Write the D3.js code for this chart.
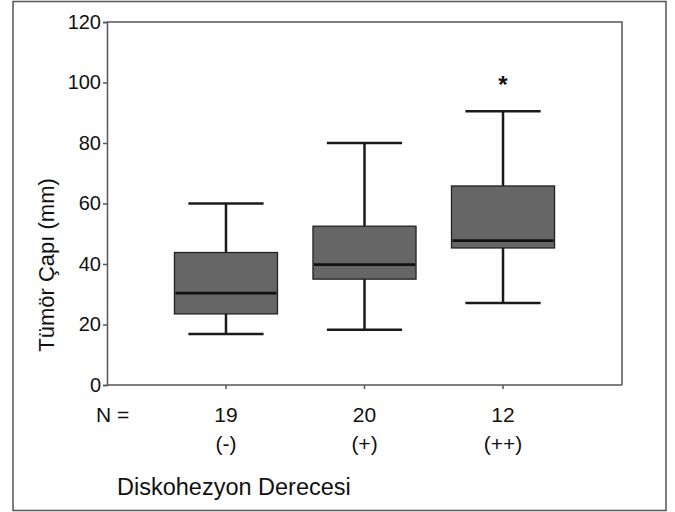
<!DOCTYPE html>
<meta charset="utf-8">
<style>
body { margin: 0; background: #fff; }
text { font-family: "Liberation Sans", Arial, Helvetica, sans-serif; fill: #111; }
.box { fill: #666666; stroke: #222; stroke-width: 1.3px; }
.whisker, .cap { stroke: #1a1a1a; stroke-width: 2.5px; }
.median { stroke: #111; stroke-width: 2.8px; }
.axis path, .axis line { stroke: #555; stroke-width: 1.5px; }
</style>
<body>

<script src="https://d3js.org/d3.v7.min.js"></script>

<script>

// Data
var categories = ["(-)", "(+)", "(++)"];
var counts = [19, 20, 12];
var lowWhisker = [16.9, 18.3, 27.1];
var q1 = [23.5, 35, 45.3];
var medians = [30.4, 39.8, 47.7];
var q3 = [43.8, 52.5, 65.8];
var highWhisker = [60, 80, 90.5];
var extremes = [{cat: "(++)", value: 101.3}];
var yTicks = [0, 20, 40, 60, 80, 100, 120];

var W = 675, H = 512;
var margin = {top: 22, right: 53, bottom: 127, left: 107},
    width = W - margin.left - margin.right,
    height = H - margin.top - margin.bottom;

var svg = d3.select("body").append("svg")
    .attr("width", W)
    .attr("height", H);

// outer frame
svg.append("rect")
    .attr("x", 13).attr("y", 1.5)
    .attr("width", 653).attr("height", 509)
    .attr("fill", "none")
    .attr("stroke", "#555")
    .attr("stroke-width", 1.5);

var g = svg.append("g")
    .attr("transform", "translate(" + margin.left + "," + margin.top + ")");

var x = d3.scaleBand()
    .domain(categories)
    .range([0, width])
    .paddingInner(0.256)
    .paddingOuter(0.487);

var y = d3.scaleLinear()
    .domain([0, 120])
    .range([height, 0]);

var rows = categories.map(function(c, i) {
  return {cat: c, n: counts[i], lo: lowWhisker[i], q1: q1[i], med: medians[i], q3: q3[i], hi: highWhisker[i]};
});

var bw = x.bandwidth();
var capW = bw * 0.73;

// plot frame (top and right)
g.append("path")
    .attr("d", "M0,0H" + width + "V" + height)
    .attr("fill", "none")
    .attr("stroke", "#555")
    .attr("stroke-width", 1.5);

// y axis
var yAxis = g.append("g")
    .attr("class", "axis")
    .call(d3.axisLeft(y).tickValues(yTicks).tickSize(4).tickPadding(2));
yAxis.selectAll("text")
    .style("font-size", "20px")
    .attr("fill", "#111");

// x axis (ticks only, labels drawn below)
var xAxis = g.append("g")
    .attr("class", "axis")
    .attr("transform", "translate(0," + height + ")")
    .call(d3.axisBottom(x).tickSize(4).tickFormat(""));
xAxis.select(".domain").attr("d", "M0,0H" + width);

var box = g.selectAll(".boxg")
    .data(rows)
  .enter().append("g")
    .attr("class", "boxg")
    .attr("transform", function(d) { return "translate(" + (x(d.cat) + bw / 2) + ",0)"; });

box.append("line").attr("class", "whisker")
    .attr("x1", 0).attr("x2", 0)
    .attr("y1", function(d) { return y(d.hi); })
    .attr("y2", function(d) { return y(d.q3); });
box.append("line").attr("class", "whisker")
    .attr("x1", 0).attr("x2", 0)
    .attr("y1", function(d) { return y(d.q1); })
    .attr("y2", function(d) { return y(d.lo); });
box.append("line").attr("class", "cap")
    .attr("x1", -capW / 2).attr("x2", capW / 2)
    .attr("y1", function(d) { return y(d.hi); })
    .attr("y2", function(d) { return y(d.hi); });
box.append("line").attr("class", "cap")
    .attr("x1", -capW / 2).attr("x2", capW / 2)
    .attr("y1", function(d) { return y(d.lo); })
    .attr("y2", function(d) { return y(d.lo); });

box.append("rect").attr("class", "box")
    .attr("x", -bw / 2)
    .attr("width", bw)
    .attr("y", function(d) { return y(d.q3); })
    .attr("height", function(d) { return y(d.q1) - y(d.q3); });

box.append("line").attr("class", "median")
    .attr("x1", -bw / 2 + 1).attr("x2", bw / 2 - 1)
    .attr("y1", function(d) { return y(d.med); })
    .attr("y2", function(d) { return y(d.med); });

// extreme values
g.selectAll(".extreme")
    .data(extremes)
  .enter().append("text")
    .attr("class", "extreme")
    .attr("x", function(d) { return x(d.cat) + bw / 2; })
    .attr("y", function(d) { return y(d.value) + 14; })
    .attr("text-anchor", "middle")
    .style("font-size", "24px")
    .style("font-weight", "bold")
    .text("*");

// N = row and category labels
svg.append("text")
    .attr("x", 96).attr("y", 422)
    .style("font-size", "21px")
    .text("N =");

g.selectAll(".count")
    .data(rows)
  .enter().append("text")
    .attr("class", "count")
    .attr("x", function(d) { return x(d.cat) + bw / 2; })
    .attr("y", 422 - margin.top)
    .attr("text-anchor", "middle")
    .style("font-size", "21px")
    .text(function(d) { return d.n; });

g.selectAll(".cat")
    .data(rows)
  .enter().append("text")
    .attr("class", "cat")
    .attr("x", function(d) { return x(d.cat) + bw / 2; })
    .attr("y", 451 - margin.top)
    .attr("text-anchor", "middle")
    .style("font-size", "21px")
    .text(function(d) { return d.cat; });

// axis titles
svg.append("text")
    .attr("x", 117).attr("y", 495)
    .style("font-size", "23.5px")
    .text("Diskohezyon Derecesi");

svg.append("text")
    .attr("transform", "translate(54,265) rotate(-90)")
    .attr("text-anchor", "middle")
    .style("font-size", "22px")
    .text("Tümör Çapı (mm)");

</script>
</body>
